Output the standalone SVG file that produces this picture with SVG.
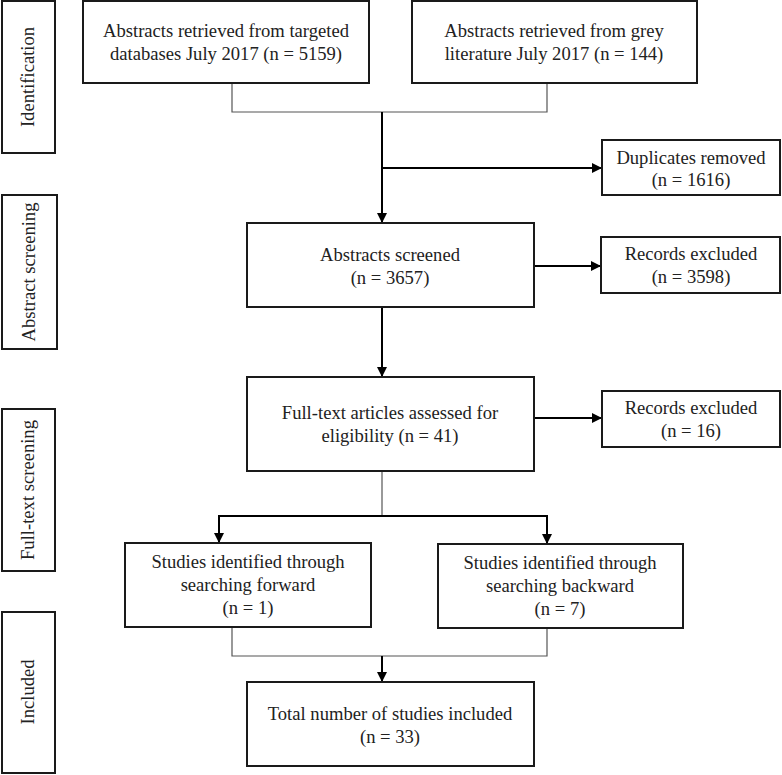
<svg xmlns="http://www.w3.org/2000/svg" width="782" height="775" viewBox="0 0 782 775">
<style>
.box{fill:#fff;stroke:#1a1a1a;stroke-width:2}
text{font-family:"Liberation Serif","Times New Roman",serif;font-size:18.6px;fill:#222;text-anchor:middle}
.thin{fill:none;stroke:#555;stroke-width:1.2}
.arr{fill:none;stroke:#000;stroke-width:2;marker-end:url(#ah)}
</style>
<defs>
<marker id="ah" viewBox="0 0 10 10" refX="10" refY="5" markerWidth="5" markerHeight="5" markerUnits="strokeWidth" orient="auto">
<path d="M0,0 L10,5 L0,10 z" fill="#000"/>
</marker>
</defs>
<rect width="782" height="775" fill="#fff"/>
<g id="stage-identification"><rect class="box" x="2" y="1" width="53" height="152"/><text transform="translate(34,77) rotate(-90)">Identification</text></g>
<g id="stage-abstract"><rect class="box" x="2" y="195" width="55" height="154"/><text transform="translate(35,272) rotate(-90)">Abstract screening</text></g>
<g id="stage-fulltext"><rect class="box" x="2" y="409" width="53" height="162"/><text transform="translate(34,490) rotate(-90)">Full-text screening</text></g>
<g id="stage-included"><rect class="box" x="2" y="612" width="53" height="161"/><text transform="translate(34,692) rotate(-90)">Included</text></g>

<g id="connectors">
<path class="thin" d="M232,83 V112 H547 V83"/>
<path class="arr" d="M382,112 V223"/>
<path class="arr" d="M382,168 H602"/>
<path class="arr" d="M534,266 H601"/>
<path class="arr" d="M382,307 V377"/>
<path class="arr" d="M534,418 H602"/>
<path class="thin" d="M382,471 V516"/>
<path class="arr" d="M219,516 H547 M219,515 V543"/>
<path class="arr" d="M547,515 V544"/>
<path class="thin" d="M232,627 V656 H547 V628"/>
<path class="arr" d="M382,656 V682"/>
</g>

<g id="n-databases"><rect class="box" x="83" y="1" width="286" height="82"/><text x="226" y="37">Abstracts retrieved from targeted</text><text x="226" y="60">databases July 2017 (n = 5159)</text></g>
<g id="n-grey"><rect class="box" x="412" y="1" width="285" height="82"/><text x="554" y="37">Abstracts retrieved from grey</text><text x="554" y="60">literature July 2017 (n = 144)</text></g>
<g id="n-duplicates"><rect class="box" x="602" y="140" width="178" height="55"/><text x="691" y="164">Duplicates removed</text><text x="691" y="186">(n = 1616)</text></g>
<g id="n-screened"><rect class="box" x="247" y="223" width="287" height="84"/><text x="390" y="261">Abstracts screened</text><text x="390" y="284">(n = 3657)</text></g>
<g id="n-excl1"><rect class="box" x="601" y="237" width="179" height="56"/><text x="691" y="260">Records excluded</text><text x="691" y="283">(n = 3598)</text></g>
<g id="n-fulltext"><rect class="box" x="247" y="377" width="287" height="94"/><text x="390" y="419">Full-text articles assessed for</text><text x="390" y="442">eligibility (n = 41)</text></g>
<g id="n-excl2"><rect class="box" x="602" y="391" width="178" height="56"/><text x="691" y="414">Records excluded</text><text x="691" y="437">(n = 16)</text></g>
<g id="n-forward"><rect class="box" x="125" y="543" width="246" height="84"/><text x="248" y="568">Studies identified through</text><text x="248" y="591">searching forward</text><text x="248" y="614">(n = 1)</text></g>
<g id="n-backward"><rect class="box" x="438" y="544" width="245" height="84"/><text x="560" y="569">Studies identified through</text><text x="560" y="592">searching backward</text><text x="560" y="615">(n = 7)</text></g>
<g id="n-total"><rect class="box" x="247" y="682" width="287" height="84"/><text x="390" y="720">Total number of studies included</text><text x="390" y="743">(n = 33)</text></g>
</svg>
